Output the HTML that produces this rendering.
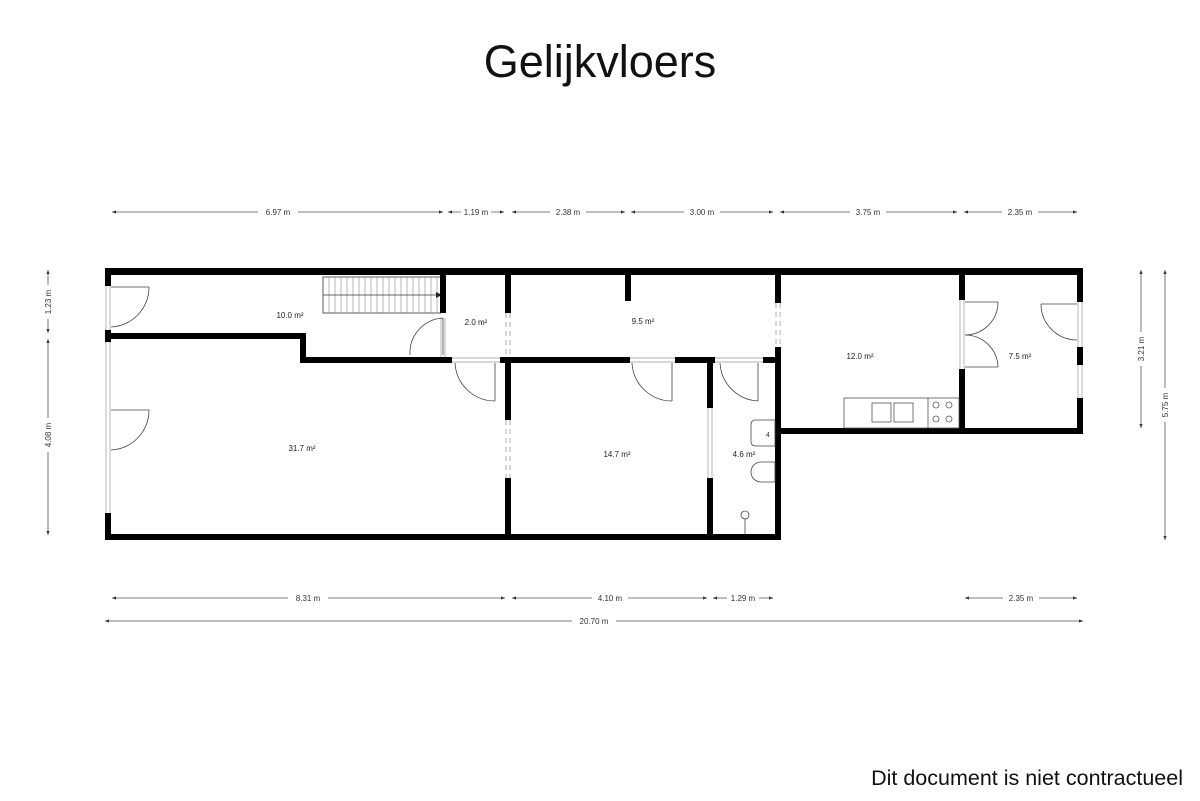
<!DOCTYPE html>
<html><head><meta charset="utf-8"><style>
html,body{margin:0;padding:0;background:#fff;}
svg{display:block;font-family:"Liberation Sans",Arial,sans-serif;}
</style></head><body>
<svg width="1200" height="801" viewBox="0 0 1200 801" xmlns="http://www.w3.org/2000/svg">
<defs>
<marker id="a" viewBox="0 0 10 10" refX="10" refY="5" markerWidth="5" markerHeight="5" orient="auto-start-reverse"><path d="M0,1 L10,5 L0,9z" fill="#333"/></marker>
</defs>
<rect width="1200" height="801" fill="#fff"/>
<text x="600" y="77" font-size="45" text-anchor="middle" fill="#111">Gelijkvloers</text>
<text x="1183" y="785" font-size="21.5" text-anchor="end" fill="#111">Dit document is niet contractueel</text>

<g stroke="#555" stroke-width="0.8" marker-start="url(#a)" marker-end="url(#a)">
<line x1="112" y1="212" x2="443" y2="212"/>
<line x1="448" y1="212" x2="504" y2="212"/>
<line x1="512" y1="212" x2="625" y2="212"/>
<line x1="631" y1="212" x2="773" y2="212"/>
<line x1="780" y1="212" x2="957" y2="212"/>
<line x1="964" y1="212" x2="1077" y2="212"/>
<line x1="112" y1="598" x2="505" y2="598"/>
<line x1="512" y1="598" x2="707" y2="598"/>
<line x1="713" y1="598" x2="773" y2="598"/>
<line x1="965" y1="598" x2="1077" y2="598"/>
<line x1="105" y1="621" x2="1083" y2="621"/>
<line x1="48" y1="270" x2="48" y2="333"/>
<line x1="48" y1="339" x2="48" y2="535"/>
<line x1="1141" y1="270" x2="1141" y2="428"/>
<line x1="1165" y1="270" x2="1165" y2="540"/>
</g>
<g font-size="8" fill="#333" text-anchor="middle">
<rect x="258" y="206" width="40" height="12" fill="#fff"/><text x="278" y="215">6.97 m</text>
<rect x="461" y="206" width="30" height="12" fill="#fff"/><text x="476" y="215">1.19 m</text>
<rect x="550" y="206" width="36" height="12" fill="#fff"/><text x="568" y="215">2.38 m</text>
<rect x="684" y="206" width="36" height="12" fill="#fff"/><text x="702" y="215">3.00 m</text>
<rect x="850" y="206" width="36" height="12" fill="#fff"/><text x="868" y="215">3.75 m</text>
<rect x="1002" y="206" width="36" height="12" fill="#fff"/><text x="1020" y="215">2.35 m</text>
<rect x="288" y="592" width="40" height="12" fill="#fff"/><text x="308" y="601">8.31 m</text>
<rect x="592" y="592" width="36" height="12" fill="#fff"/><text x="610" y="601">4.10 m</text>
<rect x="727" y="592" width="32" height="12" fill="#fff"/><text x="743" y="601">1.29 m</text>
<rect x="1003" y="592" width="36" height="12" fill="#fff"/><text x="1021" y="601">2.35 m</text>
<rect x="572" y="615" width="44" height="12" fill="#fff"/><text x="594" y="624">20.70 m</text>
<rect x="42" y="285" width="12" height="34" fill="#fff"/><text transform="translate(51,302) rotate(-90)">1.23 m</text>
<rect x="42" y="418" width="12" height="34" fill="#fff"/><text transform="translate(51,435) rotate(-90)">4.08 m</text>
<rect x="1135" y="332" width="12" height="34" fill="#fff"/><text transform="translate(1144,349) rotate(-90)">3.21 m</text>
<rect x="1159" y="388" width="12" height="34" fill="#fff"/><text transform="translate(1168,405) rotate(-90)">5.75 m</text>
</g>

<g font-size="8" fill="#222" text-anchor="middle">
<text x="290" y="318">10.0 m²</text>
<text x="476" y="325">2.0 m²</text>
<text x="643" y="324">9.5 m²</text>
<text x="302" y="451">31.7 m²</text>
<text x="617" y="457">14.7 m²</text>
<text x="744" y="457">4.6 m²</text>
<text x="860" y="359">12.0 m²</text>
<text x="1020" y="359">7.5 m²</text>
</g>

<g stroke="#333" stroke-width="0.8" fill="none">
<rect x="323" y="277" width="118" height="36" fill="#fff"/>
<path d="M329,277v36M335,277v36M341,277v36M347,277v36M353,277v36M359,277v36M365,277v36M371,277v36M377,277v36M383,277v36M389,277v36M395,277v36M401,277v36M407,277v36M413,277v36M419,277v36M425,277v36M431,277v36M437,277v36" stroke="#888" stroke-width="0.6"/>
<line x1="323" y1="295" x2="436" y2="295"/>
</g>
<path d="M436,292 L442,295 L436,298z" fill="#222"/>

<g fill="#000">
<rect x="105" y="268" width="978" height="7"/>
<rect x="105" y="268" width="6" height="18"/>
<rect x="105" y="330" width="6" height="12"/>
<rect x="105" y="513" width="6" height="27"/>
<rect x="105" y="534" width="676" height="6"/>
<rect x="105" y="333" width="201" height="6"/>
<rect x="300" y="333" width="6" height="30"/>
<rect x="300" y="357" width="152" height="6"/>
<rect x="440" y="271" width="6" height="42"/>
<rect x="505" y="271" width="6" height="42"/>
<rect x="500" y="357" width="130" height="6"/>
<rect x="505" y="357" width="6" height="63"/>
<rect x="505" y="478" width="6" height="62"/>
<rect x="625" y="271" width="6" height="30"/>
<rect x="675" y="357" width="40" height="6"/>
<rect x="707" y="357" width="6" height="51"/>
<rect x="707" y="478" width="6" height="62"/>
<rect x="763" y="357" width="18" height="6"/>
<rect x="775" y="271" width="6" height="32"/>
<rect x="775" y="347" width="6" height="193"/>
<rect x="775" y="428" width="308" height="6"/>
<rect x="959" y="271" width="6" height="29"/>
<rect x="959" y="369" width="6" height="65"/>
<rect x="1077" y="271" width="6" height="31"/>
<rect x="1077" y="347" width="6" height="18"/>
<rect x="1077" y="398" width="6" height="36"/>
</g>

<g stroke="#999" stroke-width="0.8" stroke-dasharray="5,4" fill="none">
<path d="M506,313v44M510,313v44M506,420v58M510,420v58M776,303v44M780,303v44"/>
</g>

<g stroke="#999" stroke-width="0.7" fill="none">
<path d="M106,286v44M110,286v44M106,342v171M110,342v171"/>
<path d="M441,318v39M445,318v39"/>
<path d="M452,358h48M452,362h48M630,358h45M630,362h45M715,358h48M715,362h48"/>
<path d="M708,408v70M712,408v70"/>
<path d="M960,300v69M964,300v69"/>
<path d="M1078,302v45M1082,302v45M1078,365v33M1082,365v33"/>
</g>

<g stroke="#444" stroke-width="0.8" fill="none">
<path d="M111,287h38M111,327A40,40 0 0 0 149,287"/>
<path d="M111,410h38M111,450A40,40 0 0 0 149,410"/>
<path d="M443,318v37M410,355A35,35 0 0 1 443,318"/>
<path d="M495,363v38M455,363A40,40 0 0 0 495,401"/>
<path d="M672,363v38M632,363A40,40 0 0 0 672,401"/>
<path d="M758,363v38M720,363A40,40 0 0 0 758,401"/>
<path d="M965,302h33M965,335A33,33 0 0 0 998,302"/>
<path d="M965,367h33M965,335A33,33 0 0 1 998,367"/>
<path d="M1077,304h-36M1041,304A36,36 0 0 0 1077,340"/>
</g>

<g stroke="#555" stroke-width="0.8" fill="none">
<rect x="844" y="398" width="115" height="30" fill="#fff"/>
<line x1="928" y1="398" x2="928" y2="428"/>
<rect x="872" y="403" width="19" height="19"/>
<rect x="894" y="403" width="19" height="19"/>
<circle cx="936" cy="405" r="3"/><circle cx="949" cy="405" r="3"/>
<circle cx="936" cy="419" r="3"/><circle cx="949" cy="419" r="3"/>
</g>
<g stroke="#444" stroke-width="0.8" fill="#fff">
<path d="M775,420h-20a4,4 0 0 0 -4,4v18a4,4 0 0 0 4,4h20z"/>
<path d="M775,462h-14a10,10 0 0 0 0,20h14z"/>
<circle cx="745" cy="515" r="4"/>
<line x1="745" y1="519" x2="745" y2="534"/>
</g>
<text x="768" y="437" font-size="7" fill="#333" text-anchor="middle">4</text>
</svg>
</body></html>
